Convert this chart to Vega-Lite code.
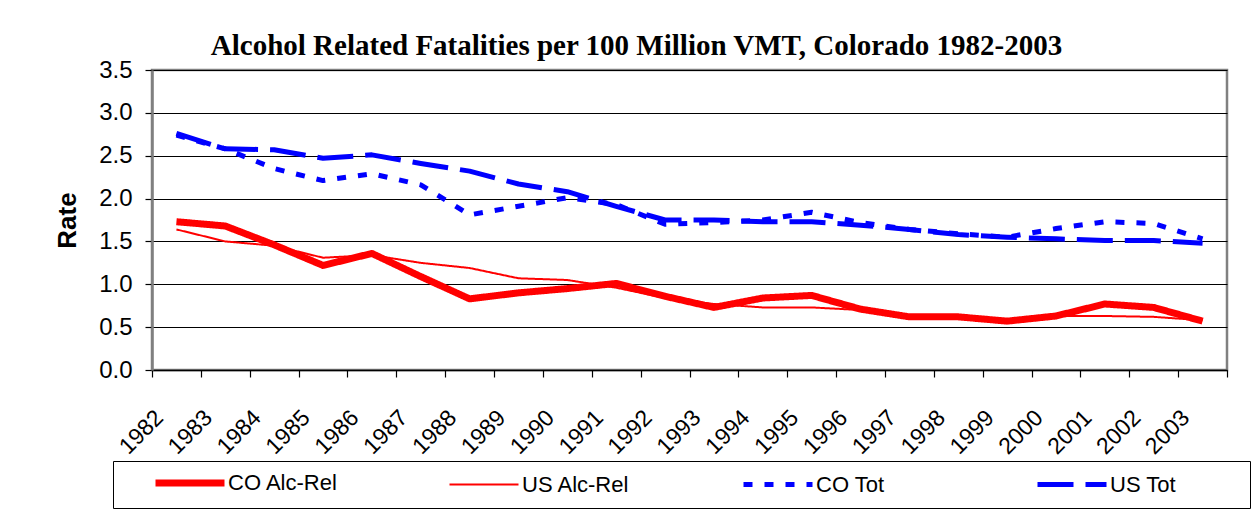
{
  "$schema": "https://vega.github.io/schema/vega-lite/v6.json",
  "width": 1075,
  "height": 300,
  "padding": {"left": 54, "top": 32, "right": 0, "bottom": 5},
  "background": "white",
  "title": {
    "text": "Alcohol Related Fatalities per 100 Million VMT, Colorado 1982-2003",
    "font": "Liberation Serif",
    "fontSize": 29,
    "fontWeight": "bold",
    "color": "black",
    "anchor": "middle",
    "dx": -53,
    "offset": -3
  },
  "data": {
    "values": [
      {"year": "1982", "series": "CO Alc-Rel", "rate": 1.73},
      {"year": "1983", "series": "CO Alc-Rel", "rate": 1.68},
      {"year": "1984", "series": "CO Alc-Rel", "rate": 1.46},
      {"year": "1985", "series": "CO Alc-Rel", "rate": 1.22},
      {"year": "1986", "series": "CO Alc-Rel", "rate": 1.36},
      {"year": "1987", "series": "CO Alc-Rel", "rate": 1.09},
      {"year": "1988", "series": "CO Alc-Rel", "rate": 0.83},
      {"year": "1989", "series": "CO Alc-Rel", "rate": 0.9},
      {"year": "1990", "series": "CO Alc-Rel", "rate": 0.95},
      {"year": "1991", "series": "CO Alc-Rel", "rate": 1.01},
      {"year": "1992", "series": "CO Alc-Rel", "rate": 0.86},
      {"year": "1993", "series": "CO Alc-Rel", "rate": 0.73},
      {"year": "1994", "series": "CO Alc-Rel", "rate": 0.84},
      {"year": "1995", "series": "CO Alc-Rel", "rate": 0.87},
      {"year": "1996", "series": "CO Alc-Rel", "rate": 0.71},
      {"year": "1997", "series": "CO Alc-Rel", "rate": 0.62},
      {"year": "1998", "series": "CO Alc-Rel", "rate": 0.62},
      {"year": "1999", "series": "CO Alc-Rel", "rate": 0.57},
      {"year": "2000", "series": "CO Alc-Rel", "rate": 0.63},
      {"year": "2001", "series": "CO Alc-Rel", "rate": 0.77},
      {"year": "2002", "series": "CO Alc-Rel", "rate": 0.73},
      {"year": "2003", "series": "CO Alc-Rel", "rate": 0.57},
      {"year": "1982", "series": "US Alc-Rel", "rate": 1.64},
      {"year": "1983", "series": "US Alc-Rel", "rate": 1.5},
      {"year": "1984", "series": "US Alc-Rel", "rate": 1.45},
      {"year": "1985", "series": "US Alc-Rel", "rate": 1.31},
      {"year": "1986", "series": "US Alc-Rel", "rate": 1.34},
      {"year": "1987", "series": "US Alc-Rel", "rate": 1.25},
      {"year": "1988", "series": "US Alc-Rel", "rate": 1.19},
      {"year": "1989", "series": "US Alc-Rel", "rate": 1.07},
      {"year": "1990", "series": "US Alc-Rel", "rate": 1.05},
      {"year": "1991", "series": "US Alc-Rel", "rate": 0.96},
      {"year": "1992", "series": "US Alc-Rel", "rate": 0.84},
      {"year": "1993", "series": "US Alc-Rel", "rate": 0.77},
      {"year": "1994", "series": "US Alc-Rel", "rate": 0.73},
      {"year": "1995", "series": "US Alc-Rel", "rate": 0.73},
      {"year": "1996", "series": "US Alc-Rel", "rate": 0.7},
      {"year": "1997", "series": "US Alc-Rel", "rate": 0.63},
      {"year": "1998", "series": "US Alc-Rel", "rate": 0.61},
      {"year": "1999", "series": "US Alc-Rel", "rate": 0.59},
      {"year": "2000", "series": "US Alc-Rel", "rate": 0.63},
      {"year": "2001", "series": "US Alc-Rel", "rate": 0.63},
      {"year": "2002", "series": "US Alc-Rel", "rate": 0.62},
      {"year": "2003", "series": "US Alc-Rel", "rate": 0.58},
      {"year": "1982", "series": "CO Tot", "rate": 2.74},
      {"year": "1983", "series": "CO Tot", "rate": 2.58},
      {"year": "1984", "series": "CO Tot", "rate": 2.35},
      {"year": "1985", "series": "CO Tot", "rate": 2.21},
      {"year": "1986", "series": "CO Tot", "rate": 2.29},
      {"year": "1987", "series": "CO Tot", "rate": 2.16},
      {"year": "1988", "series": "CO Tot", "rate": 1.81},
      {"year": "1989", "series": "CO Tot", "rate": 1.91},
      {"year": "1990", "series": "CO Tot", "rate": 2.01},
      {"year": "1991", "series": "CO Tot", "rate": 1.93},
      {"year": "1992", "series": "CO Tot", "rate": 1.7},
      {"year": "1993", "series": "CO Tot", "rate": 1.72},
      {"year": "1994", "series": "CO Tot", "rate": 1.75},
      {"year": "1995", "series": "CO Tot", "rate": 1.84},
      {"year": "1996", "series": "CO Tot", "rate": 1.72},
      {"year": "1997", "series": "CO Tot", "rate": 1.64},
      {"year": "1998", "series": "CO Tot", "rate": 1.59},
      {"year": "1999", "series": "CO Tot", "rate": 1.55},
      {"year": "2000", "series": "CO Tot", "rate": 1.65},
      {"year": "2001", "series": "CO Tot", "rate": 1.73},
      {"year": "2002", "series": "CO Tot", "rate": 1.71},
      {"year": "2003", "series": "CO Tot", "rate": 1.53},
      {"year": "1982", "series": "US Tot", "rate": 2.76},
      {"year": "1983", "series": "US Tot", "rate": 2.58},
      {"year": "1984", "series": "US Tot", "rate": 2.57},
      {"year": "1985", "series": "US Tot", "rate": 2.47},
      {"year": "1986", "series": "US Tot", "rate": 2.51},
      {"year": "1987", "series": "US Tot", "rate": 2.41},
      {"year": "1988", "series": "US Tot", "rate": 2.32},
      {"year": "1989", "series": "US Tot", "rate": 2.17},
      {"year": "1990", "series": "US Tot", "rate": 2.08},
      {"year": "1991", "series": "US Tot", "rate": 1.91},
      {"year": "1992", "series": "US Tot", "rate": 1.75},
      {"year": "1993", "series": "US Tot", "rate": 1.75},
      {"year": "1994", "series": "US Tot", "rate": 1.73},
      {"year": "1995", "series": "US Tot", "rate": 1.73},
      {"year": "1996", "series": "US Tot", "rate": 1.69},
      {"year": "1997", "series": "US Tot", "rate": 1.64},
      {"year": "1998", "series": "US Tot", "rate": 1.58},
      {"year": "1999", "series": "US Tot", "rate": 1.55},
      {"year": "2000", "series": "US Tot", "rate": 1.53},
      {"year": "2001", "series": "US Tot", "rate": 1.51},
      {"year": "2002", "series": "US Tot", "rate": 1.51},
      {"year": "2003", "series": "US Tot", "rate": 1.48}
    ]
  },
  "mark": {"type": "line", "strokeJoin": "round", "strokeCap": "butt"},
  "encoding": {
    "x": {
      "field": "year",
      "type": "ordinal",
      "scale": {"paddingInner": 0, "paddingOuter": 0},
      "axis": {
        "title": null,
        "labelAngle": -45,
        "labelFont": "Liberation Sans",
        "labelFontSize": 23,
        "labelColor": "black",
        "labelOverlap": false,
        "labelOffset": -25,
        "labelPadding": 29,
        "tickBand": "extent",
        "tickColor": "black",
        "tickSize": 7,
        "tickWidth": 1.2,
        "domainColor": "black",
        "domainWidth": 1.5
      }
    },
    "y": {
      "field": "rate",
      "type": "quantitative",
      "scale": {"domain": [0, 3.5], "nice": false, "zero": true},
      "axis": {
        "title": "Rate",
        "titleFont": "Liberation Sans",
        "titleFontSize": 26,
        "titleFontWeight": "bold",
        "titleColor": "black",
        "titlePadding": 18,
        "values": [0, 0.5, 1, 1.5, 2, 2.5, 3, 3.5],
        "format": ".1f",
        "labelFont": "Liberation Sans",
        "labelFontSize": 24,
        "labelColor": "black",
        "labelPadding": 13,
        "grid": true,
        "gridColor": "black",
        "gridWidth": 1.2,
        "tickColor": "black",
        "tickSize": 7,
        "tickWidth": 1.2,
        "domainColor": "#808080",
        "domainWidth": 2.5
      }
    },
    "color": {
      "field": "series",
      "type": "nominal",
      "scale": {
        "domain": ["CO Alc-Rel", "US Alc-Rel", "CO Tot", "US Tot"],
        "range": ["#FF0000", "#FF0000", "#0000FF", "#0000FF"]
      },
      "legend": {
        "title": " ",
        "titleOrient": "right",
        "titlePadding": 63,
        "titleFontSize": 22,
        "orient": "none",
        "legendX": -39,
        "legendY": 391,
        "direction": "horizontal",
        "columns": 4,
        "gridAlign": "all",
        "columnPadding": 79,
        "strokeColor": "black",
        "padding": 11,
        "symbolType": "M-3,0H3",
        "symbolSize": 529,
        "symbolOffset": 55,
        "labelOffset": 27,
        "labelFont": "Liberation Sans",
        "labelFontSize": 22,
        "labelColor": "black",
        "encode": {
          "symbols": {
            "update": {
              "strokeWidth": {"signal": "datum.value === 'CO Alc-Rel' ? 7 : datum.value === 'US Alc-Rel' ? 2 : 5"}
            }
          }
        }
      }
    },
    "strokeDash": {
      "field": "series",
      "type": "nominal",
      "scale": {
        "domain": ["CO Alc-Rel", "US Alc-Rel", "CO Tot", "US Tot"],
        "range": [[1, 0], [1, 0], [9, 12], [36, 12]]
      },
      "legend": {"title": " "}
    },
    "strokeWidth": {
      "condition": [
        {"test": "datum.series === 'CO Alc-Rel'", "value": 7},
        {"test": "datum.series === 'US Alc-Rel'", "value": 2}
      ],
      "value": 5
    }
  },
  "config": {
    "view": {"stroke": "#808080", "strokeWidth": 2.5}
  }
}
